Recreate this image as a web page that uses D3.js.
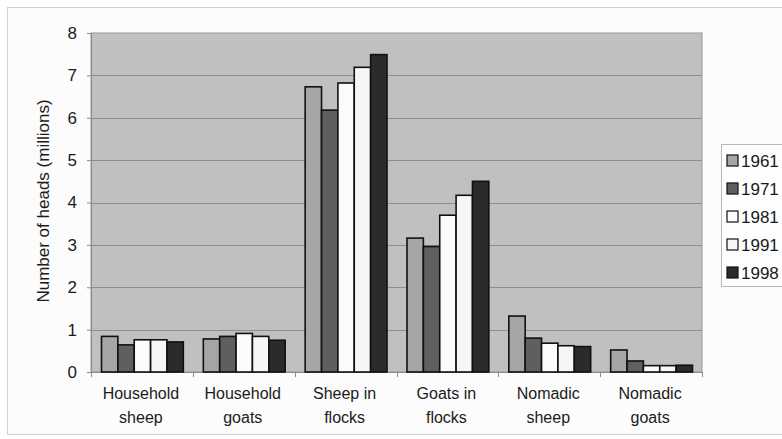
<!DOCTYPE html>
<html>
<head>
<meta charset="utf-8">
<script src="https://cdn.jsdelivr.net/npm/d3@7"></script>
<style>
  html, body { margin: 0; padding: 0; background: #ffffff; }
  svg { display: block; }
  svg text { font-family: "Liberation Sans", Arial, sans-serif; }
</style>
</head>
<body>
<svg id="chart" width="782" height="439"></svg>
<script>
// Livestock groups (two-line labels)
const categories = [
  ["Household", "sheep"],
  ["Household", "goats"],
  ["Sheep in", "flocks"],
  ["Goats in", "flocks"],
  ["Nomadic", "sheep"],
  ["Nomadic", "goats"]
];
const years = ["1961", "1971", "1981", "1991", "1998"];

// Number of heads (millions), one array per year, in category order
const v1961 = [0.84, 0.78, 6.73, 3.16, 1.32, 0.52];
const v1971 = [0.64, 0.84, 6.18, 2.96, 0.80, 0.26];
const v1981 = [0.76, 0.91, 6.82, 3.70, 0.68, 0.15];
const v1991 = [0.76, 0.84, 7.19, 4.17, 0.62, 0.15];
const v1998 = [0.71, 0.75, 7.49, 4.50, 0.60, 0.16];

const yTicks = [0, 1, 2, 3, 4, 5, 6, 7, 8];

const seriesValues = [v1961, v1971, v1981, v1991, v1998];
const fills = ["#a6a6a6", "#5f5f5f", "#fbfbfb", "#f6f6f6", "#2b2b2b"];

const svg = d3.select("#chart");

// outer chart frame
svg.append("rect")
  .attr("x", 7.5).attr("y", 7.5).attr("width", 790).attr("height", 427)
  .attr("fill", "#fcfcfc").attr("stroke", "#d0d0d0").attr("stroke-width", 1);

const plot = { left: 91, right: 702, top: 33, bottom: 372 };

const x0 = d3.scaleBand()
  .domain(d3.range(categories.length))
  .range([plot.left, plot.right])
  .padding(0);

const x1 = d3.scaleBand()
  .domain(years)
  .range([10.5, x0.bandwidth() - 9.5])
  .padding(0);

const y = d3.scaleLinear().domain([0, 8]).range([plot.bottom, plot.top]);

// plot area
svg.append("rect")
  .attr("x", plot.left).attr("y", plot.top)
  .attr("width", plot.right - plot.left).attr("height", plot.bottom - plot.top)
  .attr("fill", "#c0c0c0").attr("stroke", "#9a9a9a").attr("stroke-width", 1);

// gridlines
svg.append("g")
  .selectAll("line")
  .data(yTicks.filter(t => t > 0 && t < 8))
  .join("line")
  .attr("x1", plot.left).attr("x2", plot.right)
  .attr("y1", d => Math.round(y(d)) + 0.5).attr("y2", d => Math.round(y(d)) + 0.5)
  .attr("stroke", "#8e8e8e").attr("stroke-width", 1);

// y axis
const yAxis = svg.append("g")
  .attr("transform", `translate(${plot.left},0)`)
  .call(d3.axisLeft(y).tickValues(yTicks).tickFormat(d3.format("d")).tickSize(4).tickPadding(10));
yAxis.attr("font-family", null);
yAxis.select(".domain").attr("stroke", "#8a8a8a");
yAxis.selectAll(".tick line").attr("stroke", "#8a8a8a");
yAxis.selectAll("text").attr("font-size", 17).attr("fill", "#1a1a1a");

// x axis (ticks at group boundaries)
const xAxis = svg.append("g")
  .attr("transform", `translate(0,${plot.bottom})`);
xAxis.append("line")
  .attr("x1", plot.left).attr("x2", plot.right).attr("y1", 0.5).attr("y2", 0.5)
  .attr("stroke", "#8a8a8a");
xAxis.selectAll("line.tk")
  .data(d3.range(categories.length + 1))
  .join("line").attr("class", "tk")
  .attr("x1", d => Math.round(plot.left + d * x0.step()) + 0.5)
  .attr("x2", d => Math.round(plot.left + d * x0.step()) + 0.5)
  .attr("y1", 0).attr("y2", 5)
  .attr("stroke", "#8a8a8a");

const catLabels = svg.append("g").selectAll("text")
  .data(categories)
  .join("text")
  .attr("text-anchor", "middle")
  .attr("font-size", 16).attr("fill", "#1a1a1a")
  .attr("transform", (d, i) => `translate(${x0(i) + x0.bandwidth() / 2 - 1},0)`);
catLabels.append("tspan").attr("x", 0).attr("y", 399).text(d => d[0]);
catLabels.append("tspan").attr("x", 0).attr("y", 423).text(d => d[1]);

// y-axis title
svg.append("text")
  .attr("transform", "translate(49,201) rotate(-90)")
  .attr("text-anchor", "middle")
  .attr("font-size", 17).attr("fill", "#1a1a1a")
  .text("Number of heads (millions)");

// bars
const groups = svg.append("g").selectAll("g")
  .data(categories.map((c, i) => i))
  .join("g")
  .attr("transform", i => `translate(${x0(i)},0)`);

groups.selectAll("rect")
  .data(i => years.map((yr, k) => ({ yr, k, v: seriesValues[k][i] })))
  .join("rect")
  .attr("x", d => x1(d.yr))
  .attr("y", d => y(d.v))
  .attr("width", x1.bandwidth())
  .attr("height", d => y(0) - y(d.v))
  .attr("fill", d => fills[d.k])
  .attr("stroke", "#111").attr("stroke-width", 1.6);

// legend
const legend = svg.append("g");
legend.append("rect")
  .attr("x", 721.5).attr("y", 144.5).attr("width", 70).attr("height", 142)
  .attr("fill", "#fdfdfd").attr("stroke", "#b8b8b8");
const li = legend.selectAll("g.item")
  .data(years)
  .join("g").attr("class", "item")
  .attr("transform", (d, k) => `translate(0,${161 + k * 28})`);
li.append("rect")
  .attr("x", 727).attr("y", -6).attr("width", 11).attr("height", 11)
  .attr("fill", (d, k) => fills[k]).attr("stroke", "#111").attr("stroke-width", 1.2);
li.append("text")
  .attr("x", 741).attr("y", 6)
  .attr("font-size", 17).attr("fill", "#1a1a1a")
  .text(d => d);
</script>
</body>
</html>
